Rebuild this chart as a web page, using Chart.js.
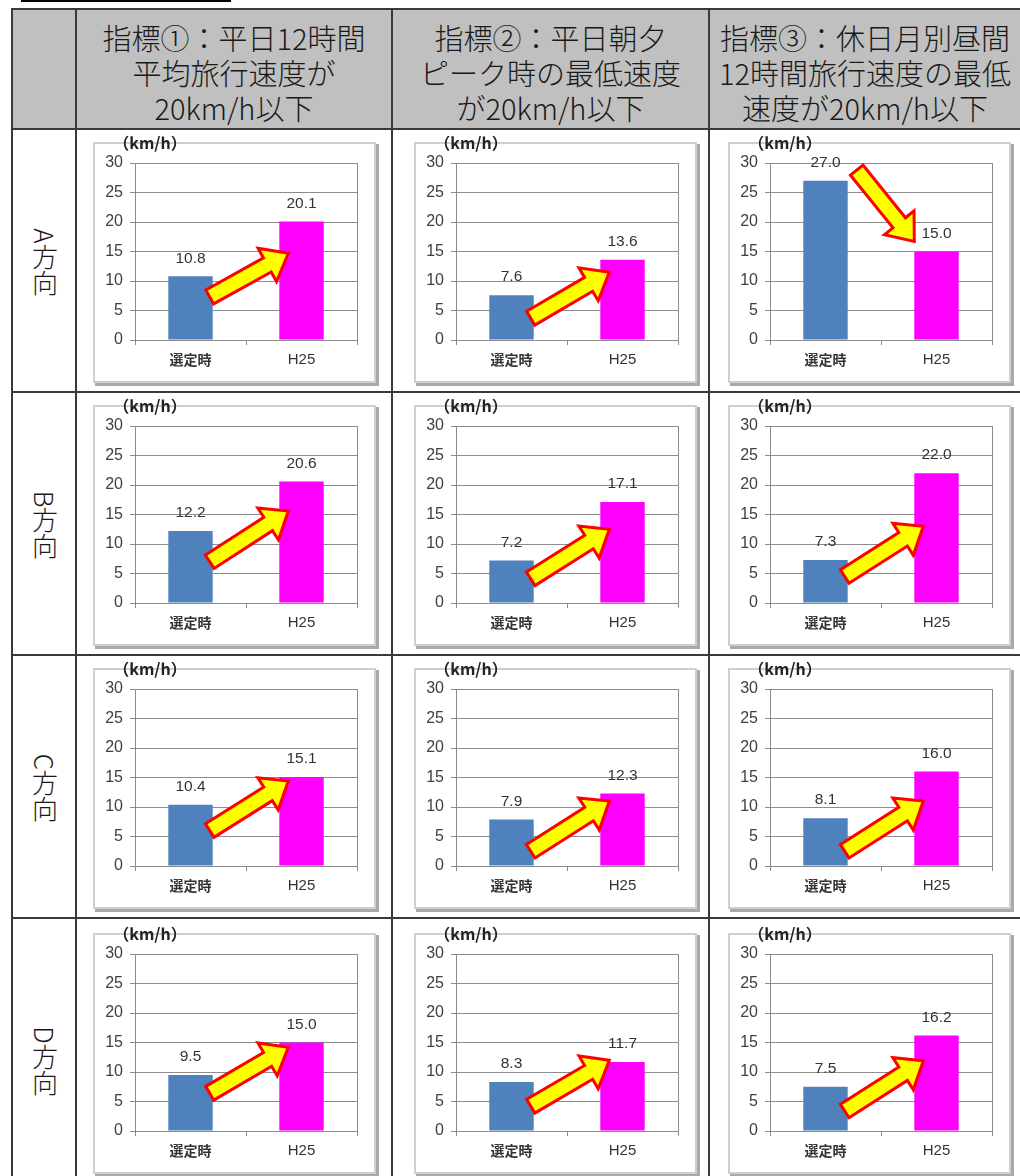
<!DOCTYPE html>
<html>
<head>
<meta charset="utf-8">
<script src="https://cdn.jsdelivr.net/npm/chart.js@4.4.1/dist/chart.umd.min.js"></script>
<style>
  html, body { margin: 0; padding: 0; background: #fff; }
  body { width: 1020px; height: 1176px; position: relative; overflow: hidden;
         font-family: "Noto Sans CJK JP", "Noto Sans", sans-serif; }
  .topline { position: absolute; left: 21px; top: 0; width: 210px; height: 2px; background: #000; }
  .hdr { position: absolute; left: 12px; top: 9px; width: 1010px; height: 120px; background: #c0c0c0; }
  .vline { position: absolute; width: 2px; background: #3a3a3a; }
  .hline { position: absolute; height: 2px; background: #3a3a3a; left: 11px; width: 1012px; }
  .htext { position: absolute; top: 20px; text-align: center; font-size: 29px; line-height: 35px;
           font-weight: 300; color: #1a1a1a; white-space: nowrap; }
  .dir { position: absolute; writing-mode: vertical-rl; text-orientation: mixed; font-size: 26px;
         font-weight: 300; color: #1a1a1a; transform: translate(-50%, -50%); white-space: nowrap; }
  canvas.cell { position: absolute; }
</style>
</head>
<body>
<div class="topline"></div>
<div class="hdr"></div>
<div id="grid"></div>

<script>
// Direction rows and indicator columns
const directions = ['A方向', 'B方向', 'C方向', 'D方向'];
const indicatorTitles = [
  ['指標①：平日12時間', '平均旅行速度が', '20km/h以下'],
  ['指標②：平日朝夕', 'ピーク時の最低速度', 'が20km/h以下'],
  ['指標③：休日月別昼間', '12時間旅行速度の最低', '速度が20km/h以下']
];
const categories = ['選定時', 'H25'];
const yTicks = [0, 5, 10, 15, 20, 25, 30];
const unitLabel = '（km/h）';

// Speeds (km/h) at selection time, one row per direction, one column per indicator
const speedSelected = [
  [10.8, 7.6, 27.0],
  [12.2, 7.2, 7.3],
  [10.4, 7.9, 8.1],
  [9.5, 8.3, 7.5]
];
// Speeds (km/h) in H25
const speedH25 = [
  [20.1, 13.6, 15.0],
  [20.6, 17.1, 22.0],
  [15.1, 12.3, 16.0],
  [15.0, 11.7, 16.2]
];
// Change arrows: speed level (km/h) at the arrow's tail and at its head
const arrowTail = [
  [7.3, 3.7, 28.8],
  [7.0, 4.1, 4.5],
  [6.0, 2.5, 2.5],
  [6.4, 4.2, 3.4]
];
const arrowHead = [
  [14.7, 11.5, 16.7],
  [15.6, 12.5, 13.0],
  [14.4, 11.0, 11.0],
  [14.2, 12.0, 11.9]
];

const barColors = ['#4f81bd', '#ff00ff'];

// ---- table frame ----
const colX = [11, 75, 391, 708];
const rowY = [8, 128, 391, 654, 917, 1200];
const cellLeft = [77, 398, 712];
const cellTop = [130, 393, 656, 921];
const cellW = 315, cellH = 261;

const grid = document.getElementById('grid');
colX.forEach(x => {
  const d = document.createElement('div');
  d.className = 'vline';
  d.style.left = x + 'px'; d.style.top = '8px'; d.style.height = '1170px';
  grid.appendChild(d);
});
rowY.slice(0, 5).forEach(y => {
  const d = document.createElement('div');
  d.className = 'hline';
  d.style.top = y + 'px';
  grid.appendChild(d);
});
indicatorTitles.forEach((lines, c) => {
  const d = document.createElement('div');
  d.className = 'htext';
  const l = colX[c + 1] + 2, r = (c < 2 ? colX[c + 2] : 1020);
  d.style.left = l + 'px'; d.style.width = (r - l) + 'px';
  d.innerHTML = lines.map(s => '<div>' + s + '</div>').join('');
  grid.appendChild(d);
});
directions.forEach((name, r) => {
  const d = document.createElement('div');
  d.className = 'dir';
  d.textContent = name;
  d.style.left = ((colX[0] + colX[1]) / 2 + 2) + 'px';
  d.style.top = ((rowY[r + 1] + rowY[r + 2]) / 2 + 2) + 'px';
  grid.appendChild(d);
});

// ---- drawing helpers for each small chart ----
const framePlugin = {
  id: 'frame',
  beforeDraw(chart) {
    const ctx = chart.ctx;
    const a = chart.chartArea;
    const fx = a.left - 42, fy = a.top - 21, fw = a.right - a.left + 61, fh = a.bottom - a.top + 64;
    ctx.save();
    ctx.fillStyle = '#fff';
    ctx.fillRect(fx, fy, fw, fh);
    // soft drop shadow on right and bottom
    ctx.fillStyle = '#a9a9a9';
    ctx.fillRect(fx + 2, fy + fh, fw, 3);
    ctx.fillRect(fx + fw, fy + 2, 3, fh + 1);
    ctx.strokeStyle = '#cfcfcf';
    ctx.lineWidth = 2;
    ctx.strokeRect(fx + 1, fy + 1, fw - 2, fh - 2);
    ctx.restore();
  },
  beforeDatasetsDraw(chart) {
    const ctx = chart.ctx;
    const a = chart.chartArea;
    ctx.save();
    ctx.strokeStyle = '#8c8c8c';
    ctx.lineWidth = 1;
    ctx.beginPath();
    ctx.moveTo(Math.round(a.right) + 0.5, a.top);
    ctx.lineTo(Math.round(a.right) + 0.5, a.bottom);
    ctx.stroke();
    ctx.restore();
  },
  afterDatasetsDraw(chart) {
    const ctx = chart.ctx;
    const a = chart.chartArea;
    const meta = chart.getDatasetMeta(0);
    const values = chart.data.datasets[0].data;
    ctx.save();
    // value labels above bars
    ctx.font = '15.5px "Liberation Sans", Arial, sans-serif';
    ctx.fillStyle = '#333';
    ctx.textAlign = 'center';
    ctx.textBaseline = 'middle';
    meta.data.forEach((bar, i) => {
      ctx.fillText(values[i].toFixed(1), bar.x, bar.y - 18);
    });
    // unit label
    ctx.font = 'bold 16px "Noto Sans CJK JP", sans-serif';
    ctx.fillStyle = '#222';
    ctx.fillText(unitLabel, a.left + 15, a.top - 20);
    // change arrow
    const opt = chart.options.plugins.changeArrow;
    const ys = chart.scales.y;
    const b0 = meta.data[0], b1 = meta.data[1];
    const down = opt.head < opt.tail;
    const x0 = b0.x + b0.width / 2 + (down ? 9 : -3);
    const x1 = b1.x - b1.width / 2 + (down ? 0 : 9);
    const y0 = ys.getPixelForValue(opt.tail);
    const y1 = ys.getPixelForValue(opt.head);
    drawBlockArrow(ctx, x0, y0, x1, y1);
    ctx.restore();
  }
};

function drawBlockArrow(ctx, x0, y0, x1, y1) {
  const dx = x1 - x0, dy = y1 - y0;
  const len = Math.hypot(dx, dy);
  const ux = dx / len, uy = dy / len;
  const px = -uy, py = ux;
  const sw = 8, hw = 19, hl = 24;
  const pts = [
    [0, -sw], [len - hl, -sw], [len - hl, -hw], [len, 0],
    [len - hl, hw], [len - hl, sw], [0, sw]
  ].map(([s, t]) => [x0 + ux * s + px * t, y0 + uy * s + py * t]);
  ctx.beginPath();
  pts.forEach(([x, y], i) => (i ? ctx.lineTo(x, y) : ctx.moveTo(x, y)));
  ctx.closePath();
  ctx.fillStyle = '#ffff00';
  ctx.fill();
  ctx.lineWidth = 3;
  ctx.lineJoin = 'miter';
  ctx.strokeStyle = '#ff0000';
  ctx.stroke();
}

for (let r = 0; r < 4; r++) {
  for (let c = 0; c < 3; c++) {
    const cv = document.createElement('canvas');
    cv.className = 'cell';
    cv.width = cellW; cv.height = cellH;
    cv.style.left = cellLeft[c] + 'px';
    cv.style.top = cellTop[r] + 'px';
    cv.style.width = cellW + 'px'; cv.style.height = cellH + 'px';
    document.body.appendChild(cv);

    new Chart(cv, {
      type: 'bar',
      data: {
        labels: categories,
        datasets: [{
          data: [speedSelected[r][c], speedH25[r][c]],
          backgroundColor: barColors,
          borderWidth: 0,
          barPercentage: 0.4,
          categoryPercentage: 1
        }]
      },
      options: {
        responsive: false,
        animation: false,
        devicePixelRatio: 1,
        layout: { padding: { left: 16, right: 35, top: 33, bottom: 21 } },
        plugins: {
          legend: { display: false },
          tooltip: { enabled: false },
          changeArrow: { tail: arrowTail[r][c], head: arrowHead[r][c] }
        },
        scales: {
          y: {
            min: yTicks[0], max: yTicks[yTicks.length - 1],
            afterBuildTicks(scale) { scale.ticks = yTicks.map(v => ({ value: v })); },
            afterFit(scale) { scale.width = 42; },
            ticks: { color: '#404040', padding: 7,
                     font: { family: '"Liberation Sans", Arial, sans-serif', size: 16 } },
            grid: { color: '#8c8c8c', lineWidth: 1, tickLength: 5 },
            border: { color: '#8c8c8c' }
          },
          x: {
            offset: true,
            afterFit(scale) { scale.height = 30; },
            ticks: {
              color: '#333', padding: 6,
              font: (ctx) => ctx.index === 0
                ? { family: '"Noto Sans CJK JP", sans-serif', size: 14, weight: 'bold' }
                : { family: '"Liberation Sans", Arial, sans-serif', size: 15, weight: 'normal' }
            },
            grid: { drawOnChartArea: false, color: '#8c8c8c', tickLength: 5, offset: true },
            border: { color: '#8c8c8c' }
          }
        }
      },
      plugins: [framePlugin]
    });
  }
}
</script>
</body>
</html>
